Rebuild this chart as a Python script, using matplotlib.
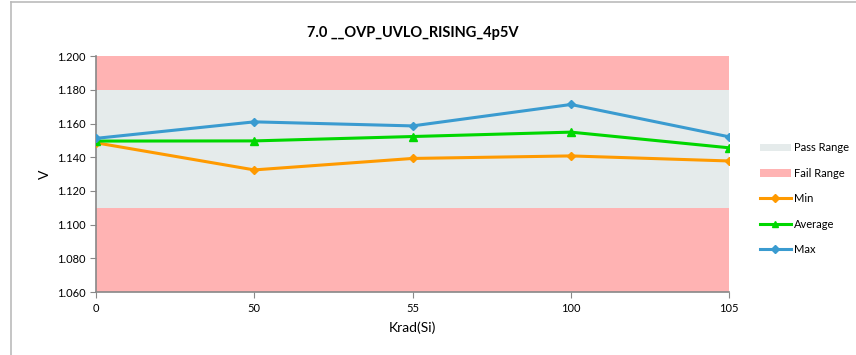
import matplotlib
matplotlib.use("Agg")
import matplotlib.pyplot as plt
from matplotlib.patches import Patch
from matplotlib.lines import Line2D

plt.rcParams['font.family'] = ['Lato', 'DejaVu Sans']

categories = ["0", "50", "55", "100", "105"]
min_vals = [1.1486, 1.1325, 1.1393, 1.1408, 1.1378]
avg_vals = [1.1496, 1.1497, 1.1523, 1.1549, 1.1456]
max_vals = [1.1512, 1.1610, 1.1586, 1.1713, 1.1521]
pass_range = (1.110, 1.180)
y_lim = (1.060, 1.200)
y_ticks = [1.060, 1.080, 1.100, 1.120, 1.140, 1.160, 1.180, 1.200]

fig = plt.figure(figsize=(8.56, 3.55), dpi=100)
ax = fig.add_axes([0.112, 0.177, 0.740, 0.665])

x = list(range(len(categories)))
pass_c = '#E5EBEB'
fail_c = '#FFB3B3'
ax.axhspan(y_lim[0], pass_range[0], color=fail_c, lw=0, zorder=0)
ax.axhspan(pass_range[1], y_lim[1], color=fail_c, lw=0, zorder=0)
ax.axhspan(pass_range[0], pass_range[1], color=pass_c, lw=0, zorder=0)

c_min, c_avg, c_max = '#FF9A00', '#00D700', '#3A9BD0'
ax.plot(x, min_vals, color=c_min, lw=2.2, marker='D', ms=4.5, zorder=3)
ax.plot(x, avg_vals, color=c_avg, lw=2.2, marker='^', ms=6, zorder=4)
ax.plot(x, max_vals, color=c_max, lw=2.2, marker='D', ms=4.5, zorder=5)

ax.set_xlim(0, len(categories) - 1)
ax.set_ylim(*y_lim)
ax.set_yticks(y_ticks)
ax.set_yticklabels([f"{v:.3f}" for v in y_ticks])
ax.set_xticks(x)
ax.set_xticklabels(categories)
ax.tick_params(axis='both', labelsize=8, color='#888888', length=4)
for s in ['top', 'right']:
    ax.spines[s].set_visible(False)
for s in ['left', 'bottom']:
    ax.spines[s].set_color('#888888')
    ax.spines[s].set_linewidth(1.2)

ax.set_ylabel("V", fontsize=10)
ax.set_xlabel("Krad(Si)", fontsize=10, labelpad=6)
ax.set_title("7.0 __OVP_UVLO_RISING_4p5V", fontsize=10.5, fontweight='bold', pad=14)

handles = [
    Patch(facecolor=pass_c, edgecolor='none', label='Pass Range'),
    Patch(facecolor=fail_c, edgecolor='none', label='Fail Range'),
    Line2D([], [], color=c_min, lw=2.2, marker='D', ms=4, label='Min'),
    Line2D([], [], color=c_avg, lw=2.2, marker='^', ms=5, label='Average'),
    Line2D([], [], color=c_max, lw=2.2, marker='D', ms=4, label='Max'),
]
fig.legend(handles=handles, loc='center left', bbox_to_anchor=(0.876, 0.44),
           frameon=False, fontsize=8, handlelength=2.8, labelspacing=1.3,
           handletextpad=0.3)

fig.add_artist(Line2D([0.013, 0.013], [0, 0.995], transform=fig.transFigure,
                      color='#BBBBBB', lw=1.2))
fig.add_artist(Line2D([0.013, 1.0], [0.995, 0.995], transform=fig.transFigure,
                      color='#BBBBBB', lw=1.2))

fig.savefig("out.png", dpi=100)
